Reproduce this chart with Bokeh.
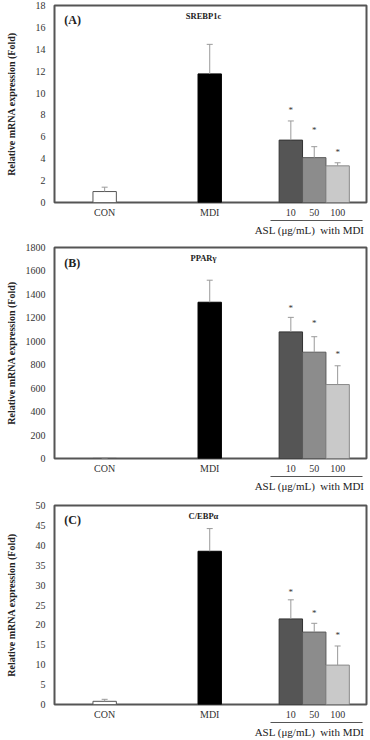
import numpy as np
from bokeh.plotting import figure
from bokeh.layouts import column
from bokeh.models import (Range1d, FixedTicker, LinearAxis, Label, Whisker,
                          TeeHead, ColumnDataSource)
from bokeh.core.properties import value
from bokeh.embed import file_html
from bokeh.resources import INLINE

# ---------------- data ----------------
groups = ["CON", "MDI", "10", "50", "100"]
dose_label = "ASL (μg/mL)\u00a0\u00a0with MDI"
y_title = "Relative mRNA expression (Fold)"

srebp_mean = [1.0, 11.75, 5.7, 4.1, 3.35]
srebp_err = [0.4, 2.7, 1.75, 1.0, 0.28]
srebp_star = [8.45, 6.6, 4.65]

ppar_mean = [1.0, 1333, 1080, 907, 631]
ppar_err = [0.5, 188, 124, 132, 160]
ppar_star = [1287, 1160, 893]

cebp_mean = [0.8, 38.5, 21.5, 18.2, 9.9]
cebp_err = [0.5, 5.7, 4.8, 2.2, 4.8]
cebp_star = [28.2, 22.9, 17.4]

# ---------------- layout / style ----------------
x_pos = [6.43, 19.9, 30.3, 33.3, 36.3]
bar_w = 3.0
fills = ["white", "black", "#555555", "#8c8c8c", "#c9c9c9"]
edges = ["#555555", "#000000", "#333333", "#5a5a5a", "#8a8a8a"]
SERIF = "Liberation Serif"

panels = [
    dict(tag="(A)", title="SREBP1c", mean=srebp_mean, err=srebp_err, star=srebp_star,
         ymax=18, step=2, h=240, top=5, bottom=38),
    dict(tag="(B)", title="PPARγ", mean=ppar_mean, err=ppar_err, star=ppar_star,
         ymax=1800, step=200, h=254, top=7, bottom=33),
    dict(tag="(C)", title="C/EBPα", mean=cebp_mean, err=cebp_err, star=cebp_star,
         ymax=50, step=5, h=246, top=11, bottom=31),
]

figs = []
for pn in panels:
    ymax = pn["ymax"]
    p = figure(width=370, height=pn["h"], output_backend="svg", toolbar_location=None,
               x_range=Range1d(0, 40), y_range=Range1d(0, ymax),
               min_border_left=54, min_border_right=4,
               min_border_top=pn["top"], min_border_bottom=pn["bottom"])
    p.grid.visible = False
    p.outline_line_color = "#555555"
    p.outline_line_width = 2
    p.background_fill_color = "white"
    p.border_fill_color = "white"

    # y axis
    ya = p.yaxis[0]
    ya.ticker = FixedTicker(ticks=list(range(0, ymax + 1, pn["step"])))
    ya.axis_line_color = None
    ya.major_tick_out = 0
    ya.major_tick_in = 0
    ya.minor_tick_out = 0
    ya.minor_tick_in = 0
    ya.major_label_standoff = 9
    ya.major_label_text_font = SERIF
    ya.major_label_text_font_size = "10px"
    ya.major_label_text_color = "#333333"
    ya.axis_label = y_title
    ya.axis_label_text_font = SERIF
    ya.axis_label_text_font_style = "bold"
    ya.axis_label_text_font_size = "10px"
    ya.axis_label_text_color = "#222222"
    ya.axis_label_standoff = 26 - 5 * len(str(ymax))

    # x axis (group names)
    xa = p.xaxis[0]
    xa.ticker = FixedTicker(ticks=x_pos)
    xa.major_label_overrides = {x: g for x, g in zip(x_pos, groups)}
    xa.axis_line_color = None
    xa.major_tick_out = 0
    xa.major_tick_in = 0
    xa.minor_tick_out = 0
    xa.minor_tick_in = 0
    xa.major_label_standoff = 4
    xa.major_label_text_font = SERIF
    xa.major_label_text_font_size = "10px"
    xa.major_label_text_color = "#333333"

    # second x axis: dose bracket
    xa2 = LinearAxis(ticker=FixedTicker(ticks=[32.7]), bounds=(27.7, 39.5),
                     major_label_overrides={32.7: dose_label})
    xa2.axis_line_color = "#555555"
    xa2.axis_line_width = 1
    xa2.major_tick_out = 0
    xa2.major_tick_in = 0
    xa2.minor_tick_out = 0
    xa2.minor_tick_in = 0
    xa2.major_label_standoff = 3
    xa2.major_label_text_font = SERIF
    xa2.major_label_text_font_size = "11px"
    xa2.major_label_text_color = "#222222"
    p.add_layout(xa2, "below")

    src = ColumnDataSource(dict(x=x_pos, top=pn["mean"],
                                up=[m + e for m, e in zip(pn["mean"], pn["err"])],
                                fill=fills, edge=edges))
    p.vbar(x="x", width=bar_w, bottom=0, top="top", source=src,
           fill_color="fill", line_color="edge", line_width=1)
    p.add_layout(Whisker(base="x", lower="top", upper="up", source=src,
                         line_color="#9a9a9a", line_width=1,
                         upper_head=TeeHead(size=6, line_color="#9a9a9a", line_width=1),
                         lower_head=None, level="glyph"))

    p.text(x=x_pos[2:], y=pn["star"], text=["*"] * 3, text_align="center",
           text_baseline="middle", text_font=value(SERIF), text_font_size="9px",
           text_color="#333333")

    p.add_layout(Label(x=1.25, y=ymax * 0.928, text=pn["tag"], text_font=SERIF,
                       text_font_style="bold", text_font_size="12px",
                       text_baseline="middle", text_color="#222222"))
    p.add_layout(Label(x=19.1, y=ymax * 0.948, text=pn["title"], text_font=SERIF,
                       text_font_style="bold", text_font_size="8.5px",
                       text_align="center", text_baseline="middle",
                       text_color="#222222"))
    figs.append(p)

layout = column(*figs, spacing=0)
open("out.html", "w").write(file_html(layout, INLINE))
